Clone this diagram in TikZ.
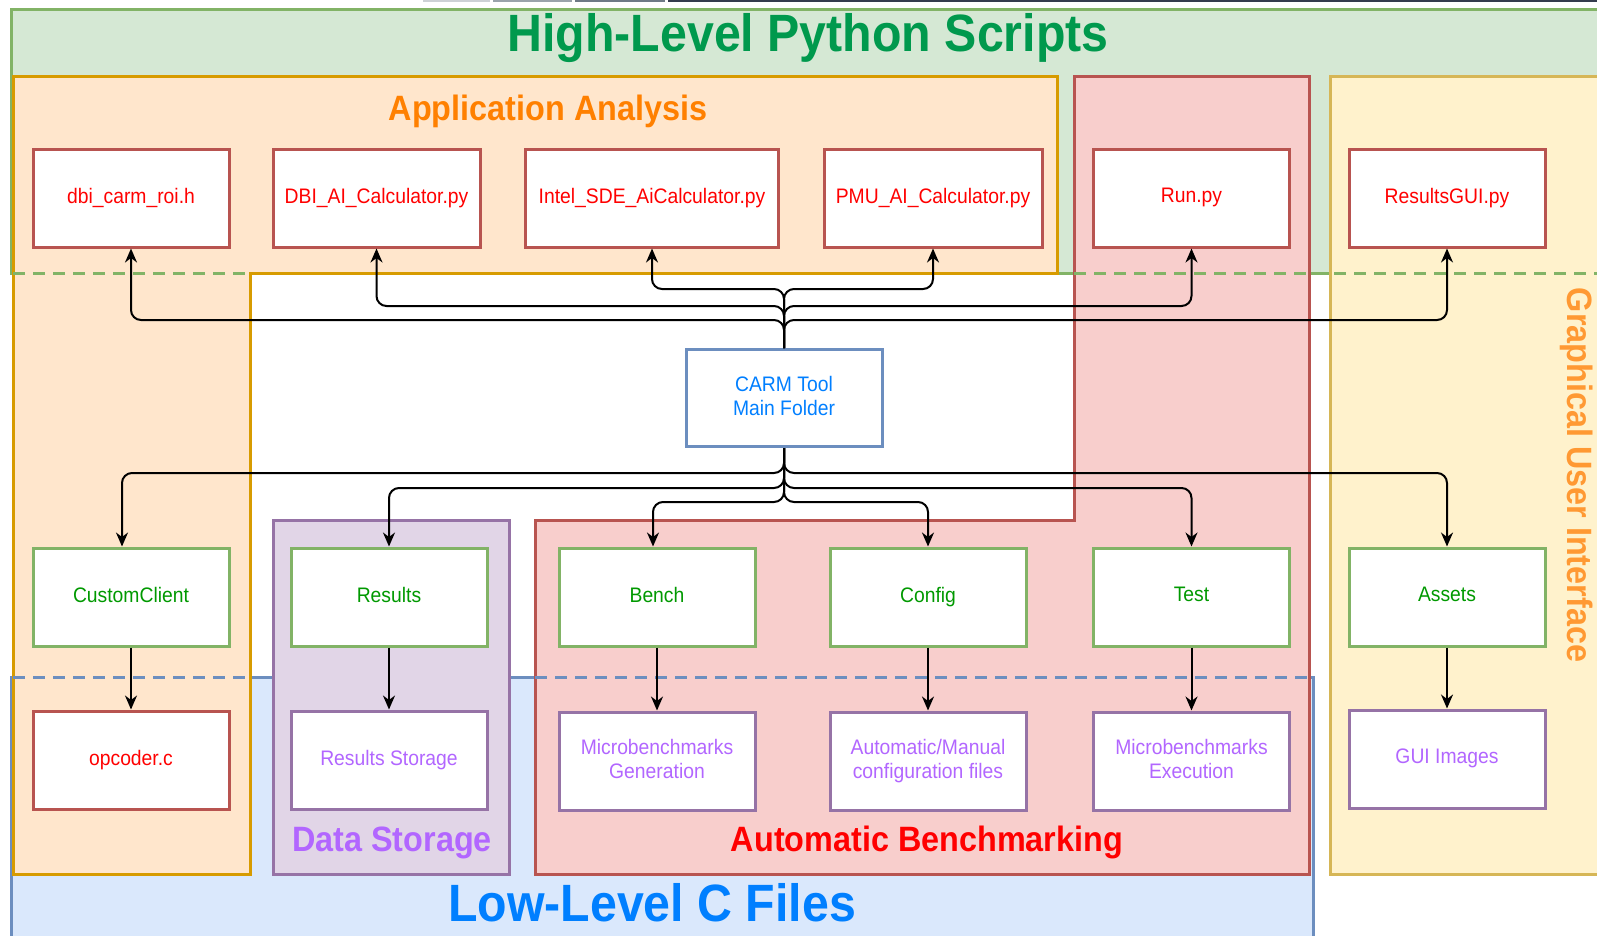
\documentclass[tikz,border=0pt]{standalone}
\usepackage{fontspec}
\setmainfont{Liberation Sans}[FakeStretch=0.92]
\usetikzlibrary{arrows.meta}

% region colours
\definecolor{hlfill}{HTML}{D5E8D4}  \definecolor{hldraw}{HTML}{82B366}
\definecolor{llfill}{HTML}{DAE8FC}  \definecolor{lldraw}{HTML}{6C8EBF}
\definecolor{aafill}{HTML}{FFE6CC}  \definecolor{aadraw}{HTML}{D79B00}
\definecolor{abfill}{HTML}{F8CECC}  \definecolor{abdraw}{HTML}{B85450}
\definecolor{dsfill}{HTML}{E1D5E7}  \definecolor{dsdraw}{HTML}{9673A6}
\definecolor{guifill}{HTML}{FFF2CC} \definecolor{guidraw}{HTML}{D6B656}
% text colours
\definecolor{hltext}{HTML}{00994D}
\definecolor{aatext}{HTML}{FF8000}
\definecolor{abtext}{HTML}{FF0000}
\definecolor{dstext}{HTML}{B266FF}
\definecolor{lltext}{HTML}{007FFF}
\definecolor{guitext}{HTML}{FF9933}
\definecolor{greentxt}{HTML}{009900}
% window edge
\definecolor{edgeA}{HTML}{CDD1D5}
\definecolor{edgeB}{HTML}{9AA3AB}
\definecolor{edgeC}{HTML}{6F7A86}
\definecolor{edgeD}{HTML}{353C4E}

\begin{document}
\begin{tikzpicture}[x=1pt, y=-1pt,
    region/.style={line width=3pt},
    bounddash/.style={line width=3pt, dash pattern=on 12pt off 8pt},
    filebox/.style={draw=#1, fill=white, line width=3pt, minimum width=196pt,
        minimum height=98pt, inner sep=2pt, align=center, text depth=5pt,
        font=\fontsize{21}{24}\selectfont},
    title/.style={font=\bfseries\fontsize{#1}{#1}\selectfont, inner sep=0pt, anchor=base},
    link/.style={line width=2pt, rounded corners=10pt,
        -{Stealth[length=14pt, width=12pt, inset=4.5pt]}}]
    \useasboundingbox (0,0) rectangle (1597,935);

    % Window edge at the top
    \draw[line width=2.5pt, edgeA] (423,1.2) -- (490,1.2);
    \draw[line width=2.5pt, edgeB] (493,1.2) -- (572,1.2);
    \draw[line width=2.5pt, edgeC] (575,1.2) -- (665,1.2);
    \draw[line width=2.5pt, edgeD] (668,1.2) -- (1597,1.2);

    % High-Level Python Scripts
    \draw[region, draw=hldraw, fill=hlfill] (11,9) rectangle (1620,273);
    % Low-Level C Files
    \draw[region, draw=lldraw, fill=llfill] (11,677) rectangle (1313,950);
    % Application Analysis
    \draw[region, draw=aadraw, fill=aafill] (13,76) -- (1057,76) -- (1057,273)
        -- (250,273) -- (250,874) -- (13,874) -- cycle;
    % Automatic Benchmarking
    \draw[region, draw=abdraw, fill=abfill] (1074,76) -- (1309,76) -- (1309,874)
        -- (535,874) -- (535,520) -- (1074,520) -- cycle;
    % Data Storage
    \draw[region, draw=dsdraw, fill=dsfill] (273,520) rectangle (509,874);
    % Graphical User Interface
    \draw[region, draw=guidraw, fill=guifill] (1330,76) rectangle (1620,874);

    % Level boundaries
    \draw[bounddash, hldraw] (13,273) -- (250,273);
    \draw[bounddash, hldraw] (1074,273) -- (1597,273);
    \draw[bounddash, lldraw] (13,677) -- (250,677);
    \draw[bounddash, lldraw] (535,677) -- (1309,677);

    % Region titles
    \node[title=52.5, text=hltext] (hltitle) at (808,51) {High-Level Python Scripts};
    \node[title=35.2, text=aatext] (aatitle) at (548,120) {Application Analysis};
    \node[title=35.2, text=dstext] (dstitle) at (392,851) {Data Storage};
    \node[title=35.2, text=abtext] (abtitle) at (927,851) {Automatic Benchmarking};
    \node[title=52.5, text=lltext] (lltitle) at (652,921) {Low-Level C Files};
    \node[title=35.2, text=guitext, rotate=-90] (guititle) at (1567,475) {Graphical User Interface};

    % Python scripts
    \node[filebox=abdraw, text=abtext] (dbi) at (131,198) {dbi\_carm\_roi.h};
    \node[filebox=abdraw, text=abtext, minimum width=207pt] (dbiai) at (376.5,198) {DBI\_AI\_Calculator.py};
    \node[filebox=abdraw, text=abtext, minimum width=253pt] (sde) at (652,198) {Intel\_SDE\_AiCalculator.py};
    \node[filebox=abdraw, text=abtext, minimum width=218pt] (pmu) at (933,198) {PMU\_AI\_Calculator.py};
    \node[filebox=abdraw, text=abtext] (run) at (1191.5,198) {Run.py};
    \node[filebox=abdraw, text=abtext] (gui) at (1447,198) {ResultsGUI.py};

    % Main folder
    \node[filebox=lldraw, text=lltext, minimum height=97pt] (carm) at (784,398) {CARM Tool\\Main Folder};

    % Sub-folders
    \node[filebox=hldraw, text=greentxt] (client) at (131,597) {CustomClient};
    \node[filebox=hldraw, text=greentxt] (results) at (389,597) {Results};
    \node[filebox=hldraw, text=greentxt] (bench) at (657,597) {Bench};
    \node[filebox=hldraw, text=greentxt] (config) at (928,597) {Config};
    \node[filebox=hldraw, text=greentxt] (test) at (1191.5,597) {Test};
    \node[filebox=hldraw, text=greentxt] (assets) at (1447,597) {Assets};

    % Folder contents
    \node[filebox=abdraw, text=abtext] (opcoder) at (131,760) {opcoder.c};
    \node[filebox=dsdraw, text=dstext] (storage) at (389,760) {Results Storage};
    \node[filebox=dsdraw, text=dstext] (gen) at (657,761) {Microbenchmarks\\Generation};
    \node[filebox=dsdraw, text=dstext] (cfgfiles) at (928,761) {Automatic/Manual\\configuration files};
    \node[filebox=dsdraw, text=dstext] (exec) at (1191.5,761) {Microbenchmarks\\Execution};
    \node[filebox=dsdraw, text=dstext] (images) at (1447,759) {GUI Images};

    % Bus levels
    \coordinate (upA) at (0,320);
    \coordinate (upB) at (0,306);
    \coordinate (upC) at (0,289);
    \coordinate (downA) at (0,473);
    \coordinate (downB) at (0,488);
    \coordinate (downC) at (0,502);
    \coordinate (clientin) at ([xshift=-9pt]client.north);
    \coordinate (benchin) at ([xshift=-4pt]bench.north);

    % Main folder to scripts
    \foreach \dst/\lvl in {dbi/upA, gui/upA, dbiai/upB, run/upB, sde/upC, pmu/upC}
        \draw[link] (carm.north) |- (\dst.south |- \lvl) -- (\dst.south);

    % Main folder to sub-folders
    \foreach \dst/\lvl in {clientin/downA, assets.north/downA, results.north/downB,
                           test.north/downB, benchin/downC, config.north/downC}
        \draw[link] (carm.south) |- (\dst |- \lvl) -- (\dst);

    % Sub-folders to contents
    \foreach \src/\dst in {client/opcoder, results/storage, bench/gen,
                           config/cfgfiles, test/exec, assets/images}
        \draw[link] (\src) -- (\dst);
\end{tikzpicture}
\end{document}
